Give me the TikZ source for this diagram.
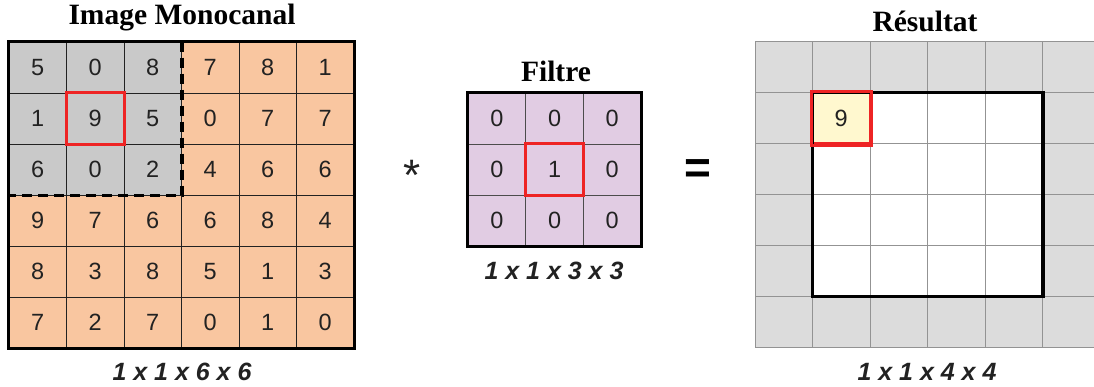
\documentclass[tikz,border=0pt]{standalone}
\usepackage{fontspec}
\setmainfont{Liberation Serif}
\setsansfont{Liberation Sans}
\usetikzlibrary{positioning}
\definecolor{Dark}{HTML}{222222}
\definecolor{Peach}{HTML}{F9C6A0}
\definecolor{Stone}{HTML}{C9C9C9}
\definecolor{Lilac}{HTML}{E1CCE3}
\definecolor{Pad}{HTML}{DCDCDC}
\definecolor{Cream}{HTML}{FFF8CF}
\definecolor{Alert}{HTML}{EE2424}
\tikzset{
    cell/.style={rectangle, minimum width=57.5, minimum height=51, inner sep=0pt, draw=Dark, line width=0.7pt, text=Dark, font=\sffamily\fontsize{23.5}{23.5}\selectfont},
    padcell/.style={cell, draw=gray!85, line width=0.8pt},
    title/.style={font=\bfseries\fontsize{29.5}{29.5}\selectfont, text=black},
    dims/.style={font=\sffamily\bfseries\itshape\fontsize{25}{25}\selectfont, text=Dark},
    frame/.style={draw=black, line width=3.2pt},
    redbox/.style={draw=Alert, line width=3pt},
    cut/.style={draw=black, line width=3.4pt, dash pattern=on 10pt off 6pt},
}
\begin{document}
\begin{tikzpicture}[x=1pt, y=-1pt]
    \useasboundingbox (0,0) rectangle (1094,387);
    \clip (0,0) rectangle (1094,387);

    % Image d'entree 6x6
    \fill[Peach] (9,42) rectangle (354,348);
    \fill[Stone] (9,42) rectangle (181.5,195);
    \foreach \row [count=\r] in {{5,0,8,7,8,1},{1,9,5,0,7,7},{6,0,2,4,6,6},{9,7,6,6,8,4},{8,3,8,5,1,3},{7,2,7,0,1,0}}
        \foreach \v [count=\c] in \row
            \node[cell] (img-\r-\c) at ({9+57.5*(\c-0.5)}, {42+51*(\r-0.5)}) {\v};
    \draw[frame] (img-1-1.north west) rectangle (img-6-6.south east);
    \draw[cut] (img-1-3.north east) -- (img-3-3.south east) -- (img-3-1.south west);
    \draw[redbox] (img-2-2.north west) rectangle (img-2-2.south east);
    \node[title] (t-img) at (182,18) {Image Monocanal};
    \node[dims] (d-img) at (182,372) {1 x 1 x 6 x 6};

    % Operateur
    \node[font=\sffamily\fontsize{44}{44}\selectfont, text=Dark] (star) at (412,175) {*};

    % Filtre 3x3
    \foreach \row [count=\r] in {{0,0,0},{0,1,0},{0,0,0}}
        \foreach \v [count=\c] in \row
            \node[cell, fill=Lilac, draw=gray!60!black] (flt-\r-\c) at ({468+57.7*(\c-0.5)}, {93+51*(\r-0.5)}) {\v};
    \draw[frame] (flt-1-1.north west) rectangle (flt-3-3.south east);
    \draw[redbox] (flt-2-2.north west) rectangle (flt-2-2.south east);
    \node[title] (t-flt) at (556,71) {Filtre};
    \node[dims] (d-flt) at (554,271) {1 x 1 x 3 x 3};

    \node[font=\sffamily\bfseries\fontsize{46}{46}\selectfont, text=black] (eq) at (698,172) {=};

    % Resultat avec bordure
    \fill[Pad] (755,42) rectangle (1100,347);
    \fill[white] (812.5,93) rectangle (1042.5,297);
    \foreach \r in {1,...,6}
        \foreach \c in {1,...,6}
            \node[padcell] (res-\r-\c) at ({755+57.5*(\c-0.5)}, {42+50.8*(\r-0.5)}) {};
    \node[cell, fill=Cream, draw=Alert, line width=3pt] (res-val) at (res-2-2) {9};
    \draw[frame] (res-2-2.north west) rectangle (res-5-5.south east);
    \draw[redbox] (res-val.north west) rectangle (res-val.south east);
    \node[title] (t-res) at (925,21) {Résultat};
    \node[dims] (d-res) at (927,372) {1 x 1 x 4 x 4};
\end{tikzpicture}
\end{document}
